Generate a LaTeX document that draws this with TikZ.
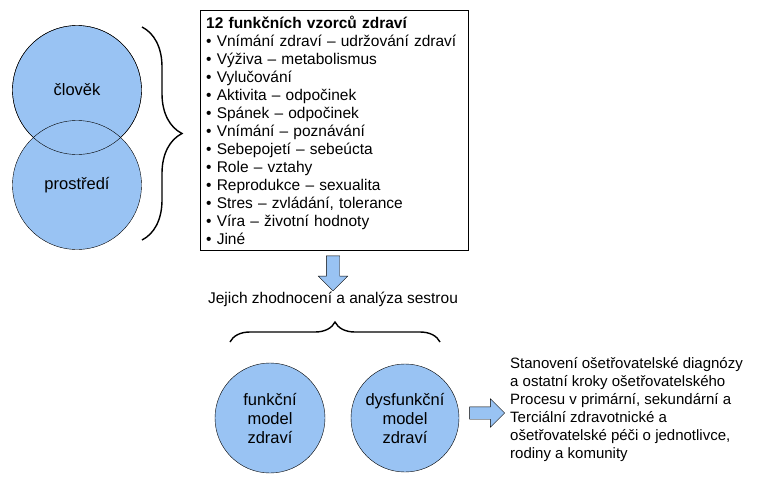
\documentclass[tikz,border=0pt]{standalone}
\usepackage{fontspec}
\setmainfont{Liberation Sans}
\usetikzlibrary{decorations.pathreplacing,shapes.arrows}
\definecolor{bubble}{RGB}{153,195,243}
\begin{document}
\begin{tikzpicture}[x=1pt,y=-1pt,
  bubble/.style={circle,draw,fill=bubble,thin,align=center,font=\fontsize{16.5}{19}\selectfont},
  blockarrow/.style={single arrow,draw,fill=bubble,thin,single arrow head extend=8pt,inner sep=6.5pt},
  bigbrace/.style={decorate,decoration={brace,amplitude=#1},line width=1.4pt},
  txt/.style={align=left,font=\fontsize{15.5}{18}\selectfont,inner sep=0pt}]
  \useasboundingbox (0,0) rectangle (772,483);

    %circles
    \node (clovek) at (77,90)[bubble,minimum size=129pt]{};
    \node (prostredi) at (77,185)[bubble,minimum size=129pt]{};
    \draw [thin] (clovek.center) circle (64.5);
    \node at (77,90)[font=\fontsize{16.5}{19}\selectfont]{člověk};
    \node at (77,185)[font=\fontsize{16.5}{19}\selectfont]{prostředí};

    %brace
    \draw [bigbrace=40] (142,27) to (142,240);

    %patterns
    \node (vzorce) at (200,10)[draw,thin,anchor=north west,minimum width=268pt,minimum height=240pt,txt,inner xsep=6pt,inner ysep=4pt,text width=256pt]{%
      \textbf{12 funkčních vzorců zdraví}\\
      • Vnímání zdraví – udržování zdraví\\
      • Výživa – metabolismus\\
      • Vylučování\\
      • Aktivita – odpočinek\\
      • Spánek – odpočinek\\
      • Vnímání – poznávání\\
      • Sebepojetí – sebeúcta\\
      • Role – vztahy\\
      • Reprodukce – sexualita\\
      • Stres – zvládání, tolerance\\
      • Víra – životní hodnoty\\
      • Jiné};

    %down arrow
    \node (down) at (333,270)[blockarrow,rotate=-90,minimum height=35pt]{};
    \node (analyza) at (333,299)[font=\fontsize{15.5}{18}\selectfont]{Jejich zhodnocení a analýza sestrou};

    %lower brace
    \draw [bigbrace=20] (230,342) to (440,342);

    %models
    \node (funkcni) at (270,418)[bubble,minimum size=110pt]{funkční\\model\\zdraví};
    \node (dysfunkcni) at (405,418)[bubble,minimum size=108pt]{dysfunkční\\model\\zdraví};

    %right arrow
    \node (right) at (484,413)[blockarrow,inner sep=6pt,minimum height=35pt]{};
    \node (kroky) at (510,410)[txt,anchor=west,font=\fontsize{15}{18}\selectfont]{%
      Stanovení ošetřovatelské diagnózy\\
      a ostatní kroky ošetřovatelského\\
      Procesu v primární, sekundární a\\
      Terciální zdravotnické a\\
      ošetřovatelské péči o jednotlivce,\\
      rodiny a komunity};
\end{tikzpicture}
\end{document}
